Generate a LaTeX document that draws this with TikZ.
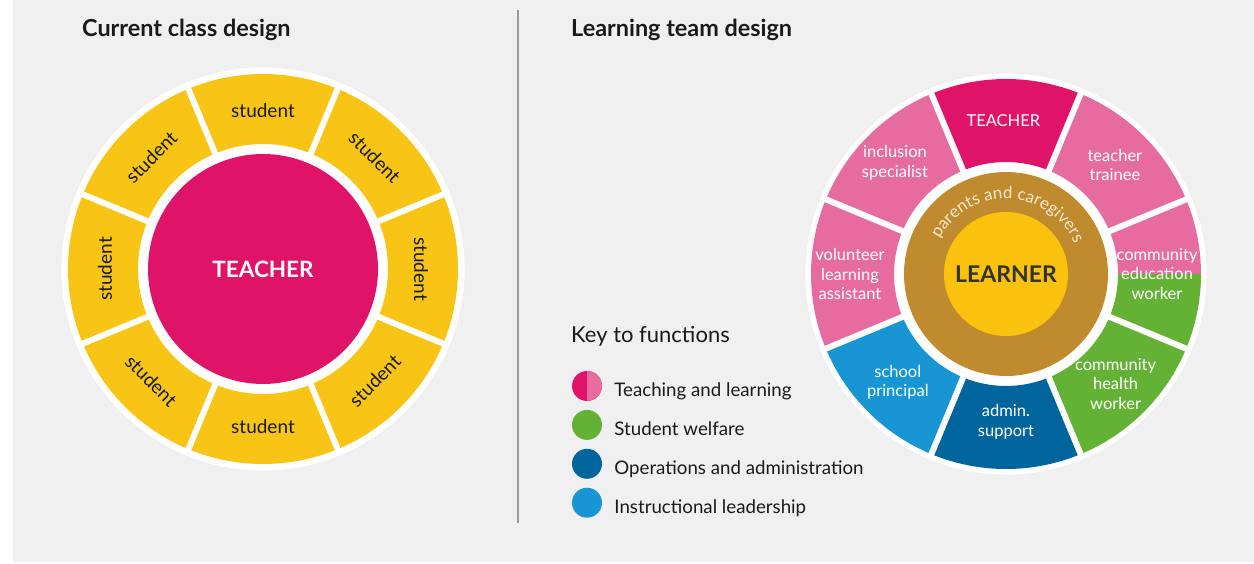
\documentclass[tikz,border=0pt]{standalone}
\usepackage{fontspec}
\setmainfont{Lato}
\usetikzlibrary{positioning, decorations.text}

\definecolor{bggrey}{HTML}{F0F0F0}
\definecolor{teachmag}{HTML}{DF1469}
\definecolor{pinkseg}{HTML}{E66C9F}
\definecolor{studyellow}{HTML}{F8C516}
\definecolor{learnyellow}{HTML}{F9C20E}
\definecolor{parentbrown}{HTML}{C08A2F}
\definecolor{welfgreen}{HTML}{63B236}
\definecolor{opsblue}{HTML}{00659C}
\definecolor{leadblue}{HTML}{1796D3}
\definecolor{cream}{HTML}{F6E8CC}
\definecolor{inktext}{HTML}{1A1A1A}

\begin{document}
\begin{tikzpicture}[x=1pt,y=1pt,
  title/.style={anchor=base west, inner sep=0pt, text=inktext, font=\bfseries\fontsize{23.4}{25}\selectfont},
  stud_text/.style={text=inktext, font=\fontsize{19}{22}\selectfont},
  seg_text/.style={text=white, align=center, inner sep=0pt, font=\fontsize{16.5}{19.5}\selectfont},
  key_dot/.style={circle, minimum size=30pt, inner sep=0pt},
  key_text/.style={anchor=west, inner sep=0pt, text height=14pt, text depth=4pt, text=inktext, font=\fontsize{18.7}{22}\selectfont},
  gap/.style={white, line width=6pt}]

  \useasboundingbox (0,0) rectangle (1254,563);
  \fill[white] (0,0) rectangle (1254,563);
  \fill[bggrey] (13,1) rectangle (1254,563);
  \draw[black!40, line width=2pt] (518,40) -- (518,553);

  \node[title] (title_left) at (82,526) {Current class design};
  \node[title] (title_right) at (571,526) {Learning team design};

  % current class
  \begin{scope}[shift={(263,294)}]
    \fill[white, draw=black!8] (0,0) circle[radius=202];
    \foreach \a in {0,45,...,315}
      \fill[studyellow] (\a-22.5:195) arc[start angle=\a-22.5, end angle=\a+22.5, radius=195]
        -- (\a+22.5:125) arc[start angle=\a+22.5, end angle=\a-22.5, radius=125] -- cycle;
    \foreach \a in {22.5,67.5,...,337.5}
      \draw[gap] (\a:118) -- (\a:200);
    \node[circle, fill=teachmag, minimum size=230pt, inner sep=0pt, text=white,
      font=\bfseries\fontsize{22.5}{24}\selectfont] (teacher_l) at (0,0) {TEACHER};
    \foreach \a/\r [count=\i] in {90/0,45/-45,0/-90,-45/45,-90/0,-135/-45,180/90,135/45}
      \node[stud_text, rotate=\r] (stud_\i) at (\a:158) {student};
  \end{scope}

  % learning team
  \begin{scope}[shift={(1006,289)}]
    \fill[white, draw=black!8] (0,0) circle[radius=201];
    \foreach \s/\e/\c in {67.5/112.5/teachmag, 22.5/67.5/pinkseg, 0/22.5/pinkseg,
        -22.5/0/welfgreen, -67.5/-22.5/welfgreen, -112.5/-67.5/opsblue,
        -157.5/-112.5/leadblue, 157.5/202.5/pinkseg, 112.5/157.5/pinkseg}
      \fill[\c] (\s:195) arc[start angle=\s, end angle=\e, radius=195]
        -- (\e:112) arc[start angle=\e, end angle=\s, radius=112] -- cycle;
    \foreach \a in {22.5,67.5,...,337.5}
      \draw[gap] (\a:105) -- (\a:199);
    \node[circle, fill=white, minimum size=220pt, inner sep=0pt] (ring_gap) at (0,0) {};
    \node[circle, fill=parentbrown, minimum size=204pt, inner sep=0pt] (parents) at (0,0) {};
    \node[circle, fill=learnyellow, minimum size=124pt, inner sep=0pt, text=black!80,
      font=\bfseries\fontsize{23}{25}\selectfont] (learner) at (0,0) {LEARNER};
    \path[decorate, decoration={text along path, text align=center, text color=cream,
      text={|\fontsize{17}{17}\selectfont|parents and caregivers}}]
      (178:75) arc[start angle=178, end angle=-2, radius=75];

    \node[seg_text, font=\fontsize{16.5}{19}\selectfont] (teacher_r) at (91:153) {TEACHER};
    \node[seg_text] (trainee) at (45:154) {teacher\\trainee};
    \node[seg_text] (comm_edu) at (0:151) {community\\education\\worker};
    \node[seg_text] (comm_health) at (-45:155) {community\\health\\worker};
    \node[seg_text] (admin) at (-90:148) {admin.\\support};
    \node[seg_text] (principal) at (-135:153) {school\\principal};
    \node[seg_text] (volunteer) at (180:156) {volunteer\\learning\\assistant};
    \node[seg_text] (inclusion) at (135:157) {inclusion\\specialist};
  \end{scope}

  % key
  \node[anchor=base west, inner sep=0pt, text=inktext, font=\fontsize{22}{24}\selectfont] (key_title) at (571,220) {Key to functions};
  \node[key_dot, fill=teachmag] (key_1) at (587,177) {};
  \fill[pinkseg] (key_1.north) arc[start angle=90, end angle=-90, radius=15] -- cycle;
  \node[key_dot, fill=welfgreen, below=8.5pt of key_1] (key_2) {};
  \node[key_dot, fill=opsblue, below=8.5pt of key_2] (key_3) {};
  \node[key_dot, fill=leadblue, below=8.5pt of key_3] (key_4) {};
  \node[key_text, right=12pt of key_1, yshift=-6pt] (key_1_text) {Teaching and learning};
  \node[key_text, right=12pt of key_2, yshift=-6pt] (key_2_text) {Student welfare};
  \node[key_text, right=12pt of key_3, yshift=-6pt] (key_3_text) {Operations and administration};
  \node[key_text, right=12pt of key_4, yshift=-6pt] (key_4_text) {Instructional leadership};

\end{tikzpicture}
\end{document}
